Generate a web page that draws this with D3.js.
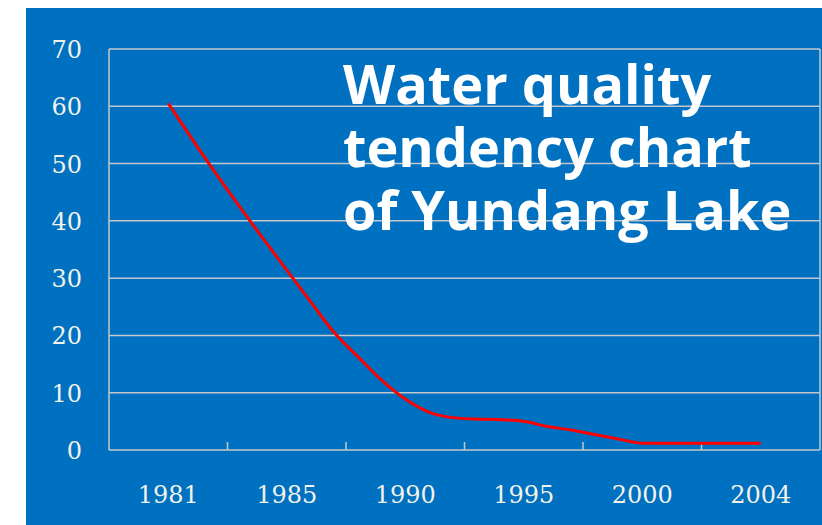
<!DOCTYPE html>
<html>
<head>
<meta charset="utf-8">
<script src="https://cdn.jsdelivr.net/npm/d3@7"></script>
<style>
  html, body { margin: 0; padding: 0; background: #ffffff; }
  svg { display: block; }
</style>
</head>
<body>
<svg id="chart" width="822" height="525"></svg>
<script>
// ---- data ----
const categories = ["1981", "1985", "1990", "1995", "2000", "2004"];
const yTicks = [0, 10, 20, 30, 40, 50, 60, 70];
const years = [1981, 1982, 1983, 1984, 1985, 1986, 1987, 1988, 1989, 1990, 1991, 1992,
               1993, 1994, 1995, 1996, 1997, 1998, 1999, 2000, 2001, 2002, 2003, 2004];
const values = [60.5, 52.8, 45.4, 38.3, 31.4, 25.9, 20.5, 16.3, 12.2, 8.9, 6.6, 5.65,
                5.4, 5.3, 5.0, 4.1, 3.5, 2.7, 1.9, 1.2, 1.2, 1.2, 1.2, 1.2];
const titleLines = ["Water quality", "tendency chart", "of Yundang Lake"];

// ---- layout ----
const svg = d3.select("#chart");
const W = 822, H = 525;
const plot = { left: 109, right: 820, top: 49, bottom: 450 };

svg.append("rect").attr("x", 26).attr("y", 8).attr("width", W - 26).attr("height", H - 8)
  .attr("fill", "#0070c0");

const x = d3.scaleBand().domain(categories).range([plot.left, plot.right]).padding(0);
const xYear = d3.scaleLinear()
  .domain(categories.map(Number))
  .range(categories.map(c => x(c) + x.bandwidth() / 2));
const y = d3.scaleLinear().domain([0, 70]).range([plot.bottom, plot.top]);

const gridColor = "#c4c8cc";

// gridlines
svg.append("g").selectAll("line").data(yTicks.filter(d => d > 0)).join("line")
  .attr("x1", plot.left).attr("x2", plot.right)
  .attr("y1", d => y(d)).attr("y2", d => y(d))
  .attr("stroke", gridColor).attr("stroke-width", 1.5);

// frame: y axis line, right border, x axis line
svg.append("line").attr("x1", plot.left).attr("x2", plot.left)
  .attr("y1", plot.top).attr("y2", plot.bottom).attr("stroke", gridColor).attr("stroke-width", 1.5);
svg.append("line").attr("x1", plot.right).attr("x2", plot.right)
  .attr("y1", plot.top).attr("y2", plot.bottom).attr("stroke", gridColor).attr("stroke-width", 1.5);
svg.append("line").attr("x1", plot.left).attr("x2", plot.right)
  .attr("y1", plot.bottom).attr("y2", plot.bottom).attr("stroke", gridColor).attr("stroke-width", 1.5);

// x tick marks between categories
svg.append("g").selectAll("line").data(categories.slice(1)).join("line")
  .attr("x1", d => x(d)).attr("x2", d => x(d))
  .attr("y1", plot.bottom).attr("y2", plot.bottom - 8)
  .attr("stroke", gridColor).attr("stroke-width", 1.5);

// y labels
svg.append("g").selectAll("text").data(yTicks).join("text")
  .attr("x", 82).attr("y", d => y(d) + 1)
  .attr("text-anchor", "end").attr("dominant-baseline", "central")
  .attr("font-family", "'DejaVu Serif', serif").attr("font-size", 24)
  .attr("fill", "#f2f2ea")
  .text(d => d);

// x labels
svg.append("g").selectAll("text").data(categories).join("text")
  .attr("x", d => x(d) + x.bandwidth() / 2).attr("y", 503)
  .attr("text-anchor", "middle")
  .attr("font-family", "'DejaVu Serif', serif").attr("font-size", 24)
  .attr("fill", "#f2f2ea")
  .text(d => d);

// line
const line = d3.line()
  .x((d, i) => xYear(years[i]))
  .y(d => y(d))
  .curve(d3.curveMonotoneX);
svg.append("path").datum(values)
  .attr("d", line)
  .attr("fill", "none").attr("stroke", "#ff0000").attr("stroke-width", 3);

// title
svg.append("g").selectAll("text").data(titleLines).join("text")
  .attr("x", 343).attr("y", (d, i) => 104 + i * 63)
  .attr("font-family", "'Open Sans', 'Noto Sans', sans-serif")
  .attr("font-weight", 700).attr("font-size", 54)
  .attr("fill", "#ffffff")
  .text(d => d);
</script>
</body>
</html>
